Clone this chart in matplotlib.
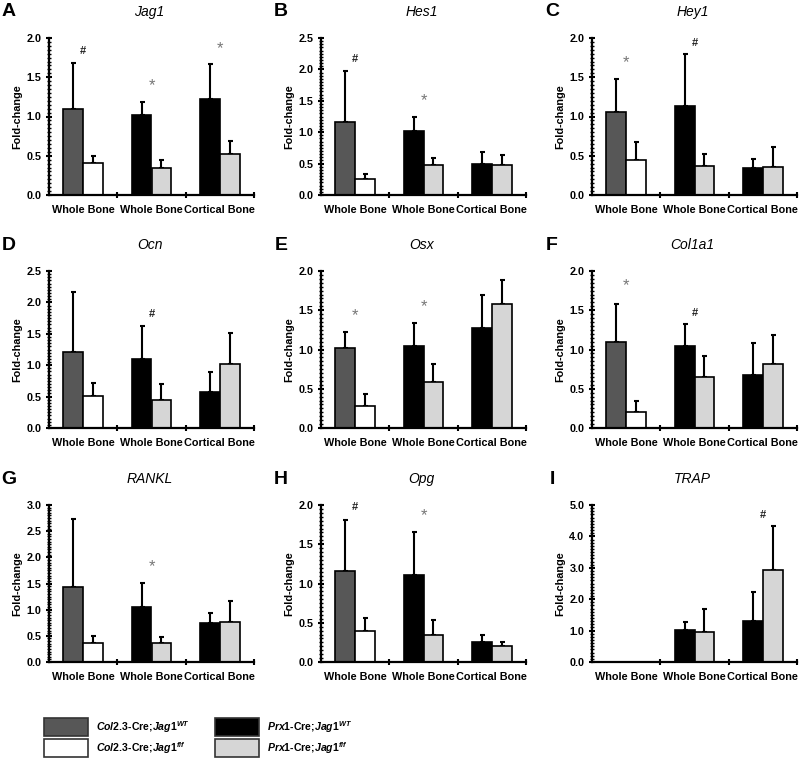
import numpy as np
import matplotlib
matplotlib.use("Agg")
import matplotlib.pyplot as plt
from matplotlib.patches import Rectangle
from matplotlib.ticker import MultipleLocator, FormatStrFormatter

plt.rcParams['font.family'] = ['Liberation Sans', 'DejaVu Sans']
plt.rcParams['mathtext.fontset'] = 'custom'
plt.rcParams['mathtext.rm'] = 'Liberation Sans:bold'
plt.rcParams['mathtext.it'] = 'Liberation Sans:italic:bold'

genes = ['Jag1', 'Hes1', 'Hey1', 'Ocn', 'Osx', 'Col1a1', 'RANKL', 'Opg', 'TRAP']
letters = ['A', 'B', 'C', 'D', 'E', 'F', 'G', 'H', 'I']
group_labels = ['Whole Bone', 'Whole Bone', 'Cortical Bone']
y_max = [2.0, 2.5, 2.0, 2.5, 2.0, 2.0, 3.0, 2.0, 5.0]
y_step = [0.5, 0.5, 0.5, 0.5, 0.5, 0.5, 0.5, 0.5, 1.0]

# group 1: Col2.3-Cre whole bone
col_wt = [1.10, 1.16, 1.06, 1.21, 1.02, 1.09, 1.43, 1.16, 0.0]
col_wt_sd = [0.58, 0.82, 0.42, 0.96, 0.20, 0.49, 1.31, 0.65, 0.0]
col_ff = [0.41, 0.25, 0.45, 0.51, 0.28, 0.20, 0.37, 0.40, 0.0]
col_ff_sd = [0.09, 0.08, 0.22, 0.20, 0.15, 0.14, 0.13, 0.16, 0.0]
# group 2: Prx1-Cre whole bone
prx_wb_wt = [1.02, 1.02, 1.13, 1.10, 1.04, 1.04, 1.06, 1.11, 1.02]
prx_wb_wt_sd = [0.16, 0.23, 0.66, 0.52, 0.30, 0.28, 0.45, 0.55, 0.25]
prx_wb_ff = [0.34, 0.47, 0.37, 0.44, 0.59, 0.65, 0.36, 0.35, 0.96]
prx_wb_ff_sd = [0.10, 0.12, 0.15, 0.26, 0.22, 0.27, 0.11, 0.19, 0.73]
# group 3: Prx1-Cre cortical bone
prx_cb_wt = [1.22, 0.49, 0.35, 0.57, 1.27, 0.68, 0.74, 0.26, 1.32]
prx_cb_wt_sd = [0.45, 0.20, 0.11, 0.32, 0.43, 0.40, 0.20, 0.08, 0.90]
prx_cb_ff = [0.52, 0.47, 0.36, 1.02, 1.58, 0.81, 0.77, 0.21, 2.94]
prx_cb_ff_sd = [0.17, 0.16, 0.25, 0.50, 0.30, 0.38, 0.40, 0.05, 1.38]

# significance marks: (group, symbol, height)
marks = [
    [(0, '#', 1.83), (1, '*', 1.39), (2, '*', 1.87)],
    [(0, '#', 2.16), (1, '*', 1.50)],
    [(0, '*', 1.69), (1, '#', 1.93)],
    [(1, '#', 1.82)],
    [(0, '*', 1.43), (1, '*', 1.55)],
    [(0, '*', 1.81), (1, '#', 1.46)],
    [(1, '*', 1.83)],
    [(0, '#', 1.97), (1, '*', 1.87)],
    [(2, '#', 4.69)],
]

c_col_wt = '#575757'
c_col_ff = '#ffffff'
c_prx_wt = '#000000'
c_prx_ff = '#d6d6d6'

W, H = 800, 758
fig = plt.figure(figsize=(W / 100, H / 100), dpi=100)

col_x = [49, 321, 592]
row_top = [38, 271, 505]
ax_w, ax_h = 205, 157
bw = 0.29


def px_axes(x, y, w, h):
    return fig.add_axes([x / W, 1 - (y + h) / H, w / W, h / H])


for i, gene in enumerate(genes):
    r, c = divmod(i, 3)
    ax = px_axes(col_x[c], row_top[r], ax_w, ax_h)

    left_vals = [col_wt[i], prx_wb_wt[i], prx_cb_wt[i]]
    left_sd = [col_wt_sd[i], prx_wb_wt_sd[i], prx_cb_wt_sd[i]]
    right_vals = [col_ff[i], prx_wb_ff[i], prx_cb_ff[i]]
    right_sd = [col_ff_sd[i], prx_wb_ff_sd[i], prx_cb_ff_sd[i]]
    left_cols = [c_col_wt, c_prx_wt, c_prx_wt]
    right_cols = [c_col_ff, c_prx_ff, c_prx_ff]

    x = np.arange(3)
    for g in range(3):
        if left_vals[g] > 0:
            ax.bar(x[g] - bw / 2, left_vals[g], bw, color=left_cols[g],
                   edgecolor='black', linewidth=1.2, zorder=2)
            ax.errorbar(x[g] - bw / 2, left_vals[g], yerr=[[0], [left_sd[g]]],
                        fmt='none', ecolor='black', elinewidth=1.5, capsize=1.8,
                        capthick=1.5, zorder=1)
        if right_vals[g] > 0:
            ax.bar(x[g] + bw / 2, right_vals[g], bw, color=right_cols[g],
                   edgecolor='black', linewidth=1.2, zorder=2)
            ax.errorbar(x[g] + bw / 2, right_vals[g], yerr=[[0], [right_sd[g]]],
                        fmt='none', ecolor='black', elinewidth=1.5, capsize=1.8,
                        capthick=1.5, zorder=1)

    for g, sym, yy in marks[i]:
        if sym == '#':
            ax.text(g, yy, '#', ha='center', va='center', fontsize=8,
                    fontweight='bold', color='#222222', clip_on=False)
        else:
            ax.text(g, yy, '*', ha='center', va='center', fontsize=12,
                    color='#777777', clip_on=False)

    ax.set_xlim(-0.5, 2.5)
    ax.set_ylim(0, y_max[i])
    ax.yaxis.set_major_locator(MultipleLocator(y_step[i]))
    ax.yaxis.set_minor_locator(MultipleLocator(y_step[i] / 10))
    ax.yaxis.set_major_formatter(FormatStrFormatter('%.1f'))
    ax.set_xticks(x)
    ax.set_xticklabels(group_labels, fontsize=7.8, fontweight='bold')
    ax.set_xticks([0.5, 1.5, 2.5], minor=True)
    ax.tick_params(axis='x', which='major', length=0, pad=7)
    ax.tick_params(axis='x', which='minor', length=5, width=1.5, direction='inout')
    ax.tick_params(axis='y', which='major', length=5, width=1.5, direction='inout',
                   labelsize=7.8, pad=3)
    ax.tick_params(axis='y', which='minor', length=2.5, width=1.0, direction='inout')
    for lab in ax.get_yticklabels():
        lab.set_fontweight('bold')
    for s in ['top', 'right']:
        ax.spines[s].set_visible(False)
    for s in ['left', 'bottom']:
        ax.spines[s].set_linewidth(1.6)
    ax.set_ylabel('Fold-change', fontsize=7.8, fontweight='bold', labelpad=3)

    # title and panel letter
    fig.text((col_x[c] + ax_w / 2 - 2) / W, 1 - (row_top[r] - 26) / H, gene,
             ha='center', va='center', fontsize=10, style='italic')
    fig.text((col_x[c] - 40) / W, 1 - (row_top[r] - 26) / H, letters[i],
             ha='center', va='center', fontsize=14, fontweight='bold')

# legend
legend_items = [
    (c_col_wt, r'$\it{Col2.3}$-Cre;$\it{Jag1}^{\it{WT}}$', 44, 718),
    (c_col_ff, r'$\it{Col2.3}$-Cre;$\it{Jag1}^{\it{f/f}}$', 44, 739),
    (c_prx_wt, r'$\it{Prx1}$-Cre;$\it{Jag1}^{\it{WT}}$', 215, 718),
    (c_prx_ff, r'$\it{Prx1}$-Cre;$\it{Jag1}^{\it{f/f}}$', 215, 739),
]
for color, label, lx, ly in legend_items:
    fig.patches.append(Rectangle((lx / W, 1 - (ly + 18) / H), 44 / W, 18 / H,
                                 transform=fig.transFigure, facecolor=color,
                                 edgecolor='#333333', linewidth=1.2))
    fig.text((lx + 52) / W, 1 - (ly + 9) / H, label, ha='left', va='center',
             fontsize=7.6, fontweight='bold')

fig.savefig('out.png', dpi=100)
